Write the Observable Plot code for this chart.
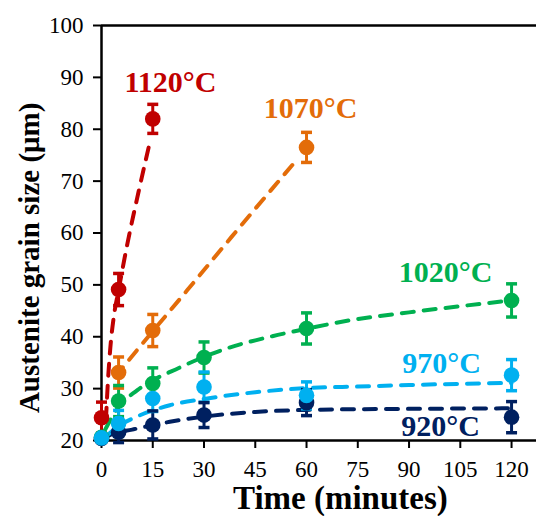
<!DOCTYPE html>
<html><head><meta charset="utf-8">
<script src="https://cdn.jsdelivr.net/npm/d3@7"></script>
<script src="https://cdn.jsdelivr.net/npm/@observablehq/plot@0.6"></script>
<style>html,body{margin:0;padding:0;background:#fff} svg{display:block} svg text{font-family:"Liberation Serif","Times New Roman",serif}</style>
</head><body><div id="chart"></div>
<script>
// Series (drawing order: back to front)
const seriesNames = ["920°C", "1020°C", "970°C", "1070°C", "1120°C"];
const seriesColors = ["#002060", "#00B050", "#00B0F0", "#E36C09", "#C00000"];

// Measured points: time (min), grain size (µm), error (± µm)
const time920 = [0, 5, 15, 30, 60, 120];
const size920 = [20.4, 21.6, 23.0, 24.9, 27.3, 24.5];
const err920  = [0.5, 2.0, 2.7, 2.4, 2.5, 3.0];

const time1020 = [0, 5, 15, 30, 60, 120];
const size1020 = [20.6, 27.6, 31.0, 36.0, 41.6, 47.0];
const err1020  = [0.5, 3.0, 3.0, 3.0, 3.0, 3.2];

const time970 = [0, 5, 15, 30, 60, 120];
const size970 = [20.5, 23.3, 28.1, 30.3, 28.7, 32.6];
const err970  = [0.5, 2.5, 2.5, 2.9, 2.6, 3.0];

const time1070 = [5, 15, 60];
const size1070 = [33.1, 41.2, 76.5];
const err1070  = [3.0, 3.1, 2.9];

const time1120 = [0, 5, 15];
const size1120 = [24.4, 49.1, 82.0];
const err1120  = [3.0, 3.1, 2.8];

// Dashed trend curves
const fitTime920 = [0.5, 3, 9, 20, 30, 45, 60, 90, 120];
const fitSize920 = [20.3, 21.2, 22.1, 23.6, 24.6, 25.5, 25.9, 26.1, 26.2];

const fitTime970 = [0.5, 5, 10, 20, 30, 45, 60, 75, 90, 120];
const fitSize970 = [20.3, 22.8, 24.5, 26.8, 28.0, 29.3, 30.1, 30.4, 30.7, 31.1];

const fitTime1020 = [1.0, 5, 10.5, 23, 36, 50, 59, 73, 90, 120];
const fitSize1020 = [22.0, 26.5, 29.7, 34.1, 37.6, 40.1, 41.4, 43.2, 44.7, 47.0];

const fitTime1070 = [4, 11, 25, 38, 57];
const fitSize1070 = [32.3, 37.9, 48.9, 59.2, 74.0];

const fitTime1120 = [1.3, 1.9, 2.6, 3.7, 5, 7.6, 10.8, 13.8];
const fitSize1120 = [24.0, 31.6, 38.0, 44.3, 49.0, 58.0, 67.8, 76.5];

// Series labels
const labelText = ["1120°C", "1070°C", "1020°C", "970°C", "920°C"];
const labelTime = [20.2, 61.2, 100.7, 99.5, 99.2];
const labelSize = [89.0, 84.0, 52.4, 34.9, 22.7];
const labelColor = ["#C00000", "#E36C09", "#00B050", "#00B0F0", "#002060"];

const yTicks = [20, 30, 40, 50, 60, 70, 80, 90, 100];
const xTicks = [0, 15, 30, 45, 60, 75, 90, 105, 120];

const measured = [
  [time920, size920, err920],
  [time1020, size1020, err1020],
  [time970, size970, err970],
  [time1070, size1070, err1070],
  [time1120, size1120, err1120]
];
const fits = [
  [fitTime920, fitSize920],
  [fitTime1020, fitSize1020],
  [fitTime970, fitSize970],
  [fitTime1070, fitSize1070],
  [fitTime1120, fitSize1120]
];

const points = [];
measured.forEach(([t, s, e], i) => t.forEach((tt, j) => points.push({series: seriesNames[i], t: tt, v: s[j], lo: s[j] - e[j], hi: s[j] + e[j]})));
const curves = [];
fits.forEach(([t, s], i) => t.forEach((tt, j) => curves.push({series: seriesNames[i], t: tt, v: s[j]})));
const labels = labelText.map((d, i) => ({text: d, t: labelTime[i], v: labelSize[i], color: labelColor[i]}));

const capSymbol = {
  draw(context, size) {
    const r = Math.sqrt(size / Math.PI);
    context.moveTo(-r, 0);
    context.lineTo(r, 0);
  }
};

const serif = "Liberation Serif";

const chart = Plot.plot({
  width: 536,
  height: 516,
  marginLeft: 101,
  marginRight: 0,
  marginTop: 25,
  marginBottom: 76,
  style: {fontFamily: serif, fontSize: "23px", color: "black", background: "white", overflow: "visible"},
  x: {domain: [0, 127.3], label: null},
  y: {domain: [20, 100], label: null},
  color: {domain: seriesNames, range: seriesColors},
  marks: [
    Plot.axisY({ticks: yTicks, tickSize: 8, tickPadding: 10, fontSize: 23, fontFamily: serif, strokeWidth: 2, label: null}),
    Plot.axisX({ticks: xTicks, tickSize: 8, tickPadding: 12, fontSize: 23, fontFamily: serif, strokeWidth: 2, label: null}),
    Plot.ruleX([0], {strokeWidth: 2.5}),
    Plot.ruleY([20], {strokeWidth: 2.5}),
    Plot.ruleY([100], {strokeWidth: 2.5}),
    Plot.line(curves, {x: "t", y: "v", z: "series", stroke: "series", strokeWidth: 4, strokeDasharray: "12,10", strokeLinecap: "round", curve: "monotone-x"}),
    Plot.ruleX(points, {x: "t", y1: "lo", y2: "hi", stroke: "series", strokeWidth: 3}),
    Plot.dot(points, {x: "t", y: "lo", stroke: "series", symbol: capSymbol, r: 5.5, strokeWidth: 3.5}),
    Plot.dot(points, {x: "t", y: "hi", stroke: "series", symbol: capSymbol, r: 5.5, strokeWidth: 3.5}),
    Plot.dot(points, {x: "t", y: "v", fill: "series", r: 7.8}),
    Plot.text(labels, {x: "t", y: "v", text: "text", fill: "color", fontSize: 30, fontWeight: "bold", fontFamily: serif}),
    Plot.text(["Time (minutes)"], {x: [69.9], frameAnchor: "bottom", lineAnchor: "middle", textAnchor: "middle", dy: 58, text: d => d, fontSize: 33, fontWeight: "bold", fontFamily: serif, fill: "black"}),
    Plot.text(["Austenite grain size (μm)"], {y: [55.2], frameAnchor: "left", textAnchor: "middle", lineAnchor: "middle", dx: -72, rotate: -90, text: d => d, fontSize: 29, fontWeight: "bold", fontFamily: serif, fill: "black"})
  ]
});
document.getElementById("chart").appendChild(chart);
</script>
</body></html>
